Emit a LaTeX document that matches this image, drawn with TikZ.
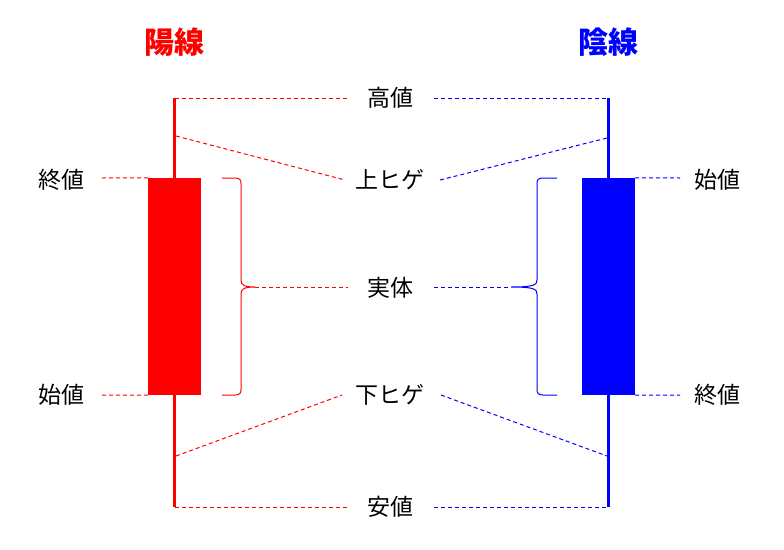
\documentclass[tikz,border=0pt]{standalone}
\usepackage{fontspec}
\newfontfamily\jp{Noto Sans CJK JP}
\begin{document}
\begin{tikzpicture}[x=1pt,y=-1pt,
  lbl/.style={font=\jp\fontsize{23}{27}\selectfont, inner sep=0pt, text=black},
  ttl/.style={font=\jp\bfseries\fontsize{30}{33}\selectfont, inner sep=0pt},
  guide/.style={line width=1pt, dash pattern=on 4pt off 3pt},
  wick/.style={line width=3pt},
  bodybox/.style={inner sep=0pt, minimum width=53pt, minimum height=217pt},
  brace/.style={line width=1pt}]
\useasboundingbox (0,0) rectangle (784,549);

% titles
\node[ttl, text=red] (tYang) at (174,42) {陽線};
\node[ttl, text=blue] (tYin) at (608,42) {陰線};

% center labels
\node[lbl] (hi) at (390,98) {高値};
\node[lbl] (us) at (390,180) {上ヒゲ};
\node[lbl] (bd) at (390,288) {実体};
\node[lbl] (ls) at (390,395) {下ヒゲ};
\node[lbl] (lo) at (390,507) {安値};
% side labels
\node[lbl] (rc) at (61,180) {終値};
\node[lbl] (ro) at (61,395) {始値};
\node[lbl] (bo) at (717,180) {始値};
\node[lbl] (bc) at (717,395) {終値};

% label end points
\coordinate (hiL) at (347,98);  \coordinate (hiR) at (434,98);
\coordinate (usL) at (345,180); \coordinate (usR) at (440,180);
\coordinate (bdL) at (348,287); \coordinate (bdR) at (434,287);
\coordinate (lsL) at (342,395); \coordinate (lsR) at (441,395);
\coordinate (loL) at (347,507); \coordinate (loR) at (434,507);
\coordinate (rcE) at (102,178); \coordinate (roE) at (102,395);
\coordinate (boE) at (680,178); \coordinate (bcE) at (680,395);

% red candle
\coordinate (rTop) at (174.7,98);
\coordinate (rBot) at (174.7,507);
\coordinate (rUp) at (176,136);
\coordinate (rLw) at (176,456);
\draw[wick, red] (rTop) -- (rBot);
\node[bodybox, fill=red] (rBody) at (174.5,286.5) {};

% blue candle
\coordinate (bTop) at (608.5,98);
\coordinate (bBot) at (608.5,507);
\coordinate (bUp) at (607,138);
\coordinate (bLw) at (607,456);
\draw[wick, blue] (bTop) -- (bBot);
\node[bodybox, fill=blue] (bBody) at (608.5,286.5) {};

% red guides
\draw[guide, red] (rTop) -- (hiL);
\draw[guide, red] (rUp) -- (usL);
\draw[guide, red] (rLw) -- (lsL);
\draw[guide, red] (rBot) -- (loL);
\draw[guide, red] (rcE) -- (rBody.north west);
\draw[guide, red] (roE) -- (rBody.south west);

% blue guides
\draw[guide, blue] (hiR) -- (bTop);
\draw[guide, blue] (usR) -- (bUp);
\draw[guide, blue] (lsR) -- (bLw);
\draw[guide, blue] (loR) -- (bBot);
\draw[guide, blue] (bBody.north east) -- (boE);
\draw[guide, blue] (bBody.south east) -- (bcE);

% red brace
\coordinate (rTip) at (255,287);
\draw[brace, red] (222,178) -- (235,178) .. controls (240,178) and (241,180) .. (241,184)
  -- (241,280) .. controls (241,285) and (244,287) .. (rTip)
  .. controls (244,287) and (241,289) .. (241,294)
  -- (241,389) .. controls (241,393) and (240,395) .. (235,395) -- (222,395);
\draw[guide, red] (rTip) -- (bdL);

% blue brace
\coordinate (bTip) at (511,287);
\draw[brace, blue] (557,178) -- (543,178) .. controls (538,178) and (537,180) .. (537,184)
  -- (537,280) .. controls (537,285) and (534,287) .. (bTip)
  .. controls (534,287) and (537,289) .. (537,294)
  -- (537,389) .. controls (537,393) and (538,395) .. (543,395) -- (557,395);
\draw[guide, blue] (bdR) -- (bTip);
\end{tikzpicture}
\end{document}
